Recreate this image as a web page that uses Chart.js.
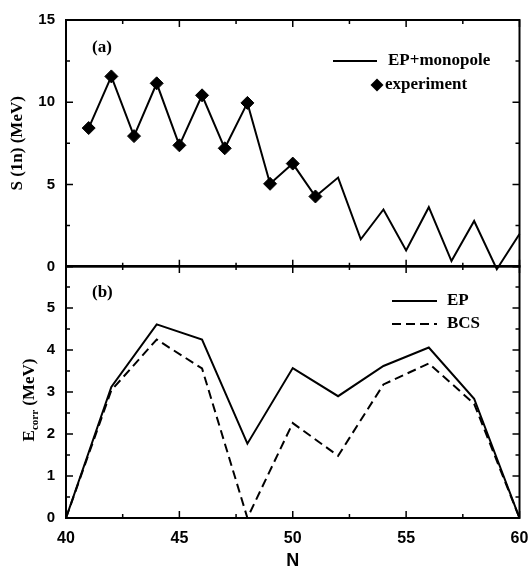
<!doctype html>
<html lang="en">
<head>
<meta charset="utf-8">
<title>S(1n) and correlation energy</title>
<script src="https://cdn.jsdelivr.net/npm/chart.js@4"></script>
<style>
  body{margin:0;background:#fff;}
  .wrap{position:relative;width:529px;height:572px;}
  canvas{position:absolute;left:0;top:0;}
</style>
</head>
<body>
<div class="wrap">
  <canvas id="panelA" width="529" height="572"></canvas>
  <canvas id="panelB" width="529" height="572"></canvas>
</div>
<script>
// panel (a): one-neutron separation energy
const nTheory = [41,42,43,44,45,46,47,48,49,50,51,52,53,54,55,56,57,58,59,60];
const sTheory = [8.43,11.57,7.94,11.15,7.38,10.42,7.20,9.96,5.04,6.27,4.27,5.42,1.67,3.48,0.99,3.62,0.34,2.78,-0.15,1.99];
const nExp = [41,42,43,44,45,46,47,48,49,50,51];
const sExp = [8.43,11.57,7.94,11.15,7.38,10.42,7.20,9.96,5.04,6.27,4.27];

// panel (b): correlation energy
const nEven = [40,42,44,46,48,50,52,54,56,58,60];
const eEP  = [0,3.12,4.61,4.25,1.77,3.57,2.90,3.62,4.06,2.84,0];
const eBCS = [0,3.04,4.25,3.56,0,2.26,1.48,3.18,3.68,2.72,0];

const xTicks = [40,45,50,55,60];

const pts = (xs, ys) => xs.map((x, i) => ({x: x, y: ys[i]}));
const tickFont = {family:'Liberation Sans', weight:'bold', size:15};
const serif = 'bold 17px "Liberation Serif"';

// frame + inward ticks on all four sides
const frameTicks = {
  id: 'frameTicks',
  afterDatasetsDraw(chart, args, o) {
    const {ctx, chartArea: a} = chart;
    const sx = chart.scales.x, sy = chart.scales.y;
    ctx.save();
    ctx.strokeStyle = '#000';
    ctx.lineWidth = 2;
    ctx.strokeRect(a.left, a.top, a.right - a.left, a.bottom - a.top);
    ctx.lineWidth = 1.5;
    ctx.beginPath();
    const nx = Math.round((sx.max - sx.min) / o.xMinor);
    for (let i = 0; i <= nx; i++) {
      const v = sx.min + i * o.xMinor;
      const p = sx.getPixelForValue(v);
      const len = Math.abs(v / o.xMajor - Math.round(v / o.xMajor)) < 1e-6 ? 7 : 4;
      ctx.moveTo(p, a.bottom); ctx.lineTo(p, a.bottom - len);
      ctx.moveTo(p, a.top); ctx.lineTo(p, a.top + len);
    }
    const ny = Math.round((sy.max - sy.min) / o.yMinor);
    for (let i = 0; i <= ny; i++) {
      const v = sy.min + i * o.yMinor;
      const p = sy.getPixelForValue(v);
      const len = Math.abs(v / o.yMajor - Math.round(v / o.yMajor)) < 1e-6 ? 7 : 4;
      ctx.moveTo(a.left, p); ctx.lineTo(a.left + len, p);
      ctx.moveTo(a.right, p); ctx.lineTo(a.right - len, p);
    }
    ctx.stroke();
    ctx.restore();
  }
};

// panel tag, in-plot legend, and a subscripted axis title
const notes = {
  id: 'notes',
  afterDraw(chart, args, o) {
    const ctx = chart.ctx;
    ctx.save();
    ctx.fillStyle = '#000';
    ctx.textBaseline = 'middle';
    ctx.font = serif;
    (o.texts || []).forEach(t => { ctx.textAlign = 'left'; ctx.fillText(t.text, t.x, t.y); });
    (o.keys || []).forEach(k => {
      const ds = chart.data.datasets[k.dataset];
      if (k.marker) {
        ctx.beginPath();
        ctx.moveTo(k.x, k.y - 6.5); ctx.lineTo(k.x + 6.5, k.y);
        ctx.lineTo(k.x, k.y + 6.5); ctx.lineTo(k.x - 6.5, k.y);
        ctx.closePath();
        ctx.fill();
      } else {
        ctx.beginPath();
        ctx.strokeStyle = ds.borderColor;
        ctx.lineWidth = ds.borderWidth;
        ctx.setLineDash(ds.borderDash || []);
        ctx.moveTo(k.x1, k.y); ctx.lineTo(k.x2, k.y);
        ctx.stroke();
        ctx.setLineDash([]);
      }
      ctx.fillText(ds.label, k.textX, k.y);
    });
    if (o.rotated) {
      const r = o.rotated;
      ctx.translate(r.x, r.y);
      ctx.rotate(-Math.PI / 2);
      let w = 0;
      r.parts.forEach(p => { ctx.font = 'bold ' + p.size + 'px "Liberation Serif"'; w += ctx.measureText(p.text).width; });
      let cx = -w / 2;
      ctx.textAlign = 'left';
      ctx.textBaseline = 'alphabetic';
      r.parts.forEach(p => {
        ctx.font = 'bold ' + p.size + 'px "Liberation Serif"';
        ctx.fillText(p.text, cx, p.shift);
        cx += ctx.measureText(p.text).width;
      });
    }
    ctx.restore();
  }
};

new Chart(document.getElementById('panelA'), {
  type: 'line',
  data: {
    datasets: [
      {label:'experiment', data: pts(nExp, sExp), showLine:false, pointStyle:'rectRot',
       pointRadius:6.5, backgroundColor:'#000', borderColor:'#000', borderWidth:1, order:0},
      {label:'EP+monopole', data: pts(nTheory, sTheory), borderColor:'#000', borderWidth:2,
       pointRadius:0, tension:0, clip:false, order:1}
    ]
  },
  options: {
    responsive:false, animation:false, events:[], devicePixelRatio:1,
    layout:{padding:{left:0, top:15, right:9.5, bottom:305.3}},
    scales: {
      x: {type:'linear', min:40, max:60, display:false},
      y: {min:0, max:15,
          ticks:{stepSize:5, padding:11, color:'#000', font:tickFont},
          grid:{display:false, drawTicks:false}, border:{display:false},
          title:{display:true, text:'S (1n) (MeV)', color:'#000',
                 font:{family:'Liberation Serif', weight:'bold', size:17}, padding:{top:7.5, bottom:0}},
          afterFit(s) { s.width = 66; }}
    },
    plugins: {
      legend:{display:false}, tooltip:{enabled:false},
      frameTicks:{xMajor:5, xMinor:2.5, yMajor:5, yMinor:2.5},
      notes:{
        texts:[{text:'(a)', x:92, y:48}],
        keys:[{dataset:1, x1:333, x2:377, y:61, textX:388},
              {dataset:0, marker:true, x:377, y:85, textX:385}]
      }
    }
  },
  plugins:[frameTicks, notes]
});

new Chart(document.getElementById('panelB'), {
  type: 'line',
  data: {
    datasets: [
      {label:'EP', data: pts(nEven, eEP), borderColor:'#000', borderWidth:2, pointRadius:0, tension:0},
      {label:'BCS', data: pts(nEven, eBCS), borderColor:'#000', borderWidth:2, borderDash:[9,5],
       pointRadius:0, tension:0}
    ]
  },
  options: {
    responsive:false, animation:false, events:[], devicePixelRatio:1,
    layout:{padding:{left:0, top:266, right:9.5, bottom:0}},
    scales: {
      x: {type:'linear', min:40, max:60,
          afterBuildTicks(s) { s.ticks = xTicks.map(v => ({value: v})); },
          ticks:{padding:11, color:'#000', font:{family:'Liberation Sans', weight:'bold', size:16}, maxRotation:0},
          grid:{display:false, drawTicks:false}, border:{display:false},
          title:{display:true, text:'N', color:'#000',
                 font:{family:'Liberation Sans', weight:'bold', size:18}, padding:{top:0, bottom:0}},
          afterFit(s) { s.height = 54; s.paddingLeft = 0; s.paddingRight = 0; }},
      y: {min:0, max:6,
          ticks:{stepSize:1, padding:11, color:'#000', font:tickFont,
                 callback: v => v === 6 ? '' : v},
          grid:{display:false, drawTicks:false}, border:{display:false},
          afterFit(s) { s.width = 66; }}
    },
    plugins: {
      legend:{display:false}, tooltip:{enabled:false},
      frameTicks:{xMajor:5, xMinor:2.5, yMajor:1, yMinor:0.5},
      notes:{
        texts:[{text:'(b)', x:92, y:293}],
        keys:[{dataset:0, x1:392, x2:437, y:301, textX:447},
              {dataset:1, x1:392, x2:437, y:324, textX:447}],
        rotated:{x:34, y:400, parts:[
          {text:'E', size:17, shift:0},
          {text:'corr', size:11, shift:4},
          {text:' (MeV)', size:17, shift:0}
        ]}
      }
    }
  },
  plugins:[frameTicks, notes]
});
</script>
</body>
</html>
